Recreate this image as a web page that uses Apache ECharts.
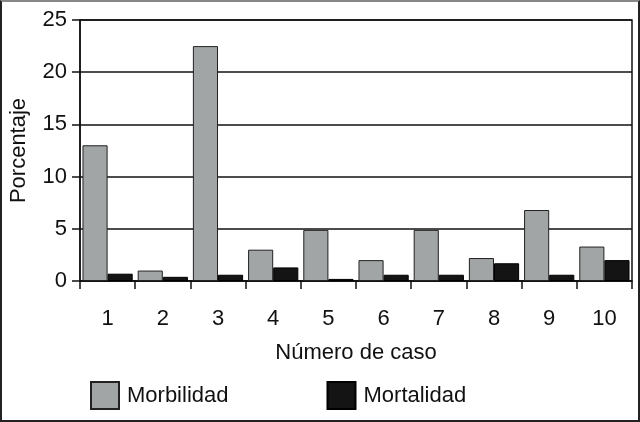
<!DOCTYPE html>
<html lang="es">
<head>
    <meta charset="UTF-8">
    <title>Morbilidad y mortalidad por caso</title>
    <script src="https://cdn.jsdelivr.net/npm/echarts@6/dist/echarts.min.js"></script>
    <style>
        html, body { margin: 0; padding: 0; background: #fff; }
        #frame {
            width: 640px;
            height: 422px;
            box-sizing: border-box;
            border: 2px solid #222;
            border-top-color: #888;
            position: relative;
        }
        #container { position: absolute; left: -2px; top: -2px; width: 640px; height: 422px; }
    </style>
</head>
<body>
<div id="frame"><div id="container"></div></div>
<script type="text/javascript">
    var casos = ['1', '2', '3', '4', '5', '6', '7', '8', '9', '10'];
    var morbilidad = [13.0, 1.0, 22.5, 3.0, 4.9, 2.0, 4.9, 2.2, 6.8, 3.3];
    var mortalidad = [0.7, 0.4, 0.6, 1.3, 0.2, 0.6, 0.6, 1.7, 0.6, 2.0];
    var yTicks = [0, 5, 10, 15, 20, 25];

    var fuente = 'Liberation Sans, Arial, sans-serif';
    var myChart = echarts.init(document.getElementById('container'));

    myChart.setOption({
        animation: false,
        textStyle: { fontFamily: fuente, color: '#111' },
        grid: { left: 80, right: 8, top: 20, bottom: 141, show: true, borderColor: '#111', borderWidth: 1.5 },
        legend: {
            left: 85,
            top: 376,
            itemWidth: 28,
            itemHeight: 27,
            itemGap: 98,
            icon: 'rect',
            textStyle: { fontSize: 22, color: '#111', padding: [0, 0, 0, 3] },
            data: ['Morbilidad', 'Mortalidad']
        },
        xAxis: {
            type: 'category',
            data: casos,
            name: 'Número de caso',
            nameLocation: 'middle',
            nameGap: 61,
            nameTextStyle: { fontSize: 22, color: '#111' },
            axisLine: { lineStyle: { color: '#111', width: 1.5 } },
            axisTick: { show: true, length: 8, lineStyle: { color: '#111', width: 1.5 } },
            axisLabel: { fontSize: 22, color: '#111', margin: 27 }
        },
        yAxis: {
            type: 'value',
            min: yTicks[0],
            max: yTicks[yTicks.length - 1],
            interval: 5,
            name: 'Porcentaje',
            nameLocation: 'middle',
            nameGap: 50,
            nameTextStyle: { fontSize: 22, color: '#111' },
            axisLine: { show: true, lineStyle: { color: '#111', width: 1.5 } },
            axisTick: { show: true, length: 8, lineStyle: { color: '#111', width: 1.5 } },
            axisLabel: { fontSize: 22, color: '#111', margin: 13 },
            splitLine: { lineStyle: { color: '#111', width: 1.5 } }
        },
        series: [
            {
                name: 'Morbilidad',
                type: 'bar',
                data: morbilidad,
                barGap: '0%',
                barCategoryGap: '9%',
                itemStyle: { color: '#a2a5a5', borderColor: '#222', borderWidth: 1 }
            },
            {
                name: 'Mortalidad',
                type: 'bar',
                data: mortalidad,
                itemStyle: { color: '#141414', borderColor: '#000', borderWidth: 1 }
            }
        ]
    });
</script>
</body>
</html>
